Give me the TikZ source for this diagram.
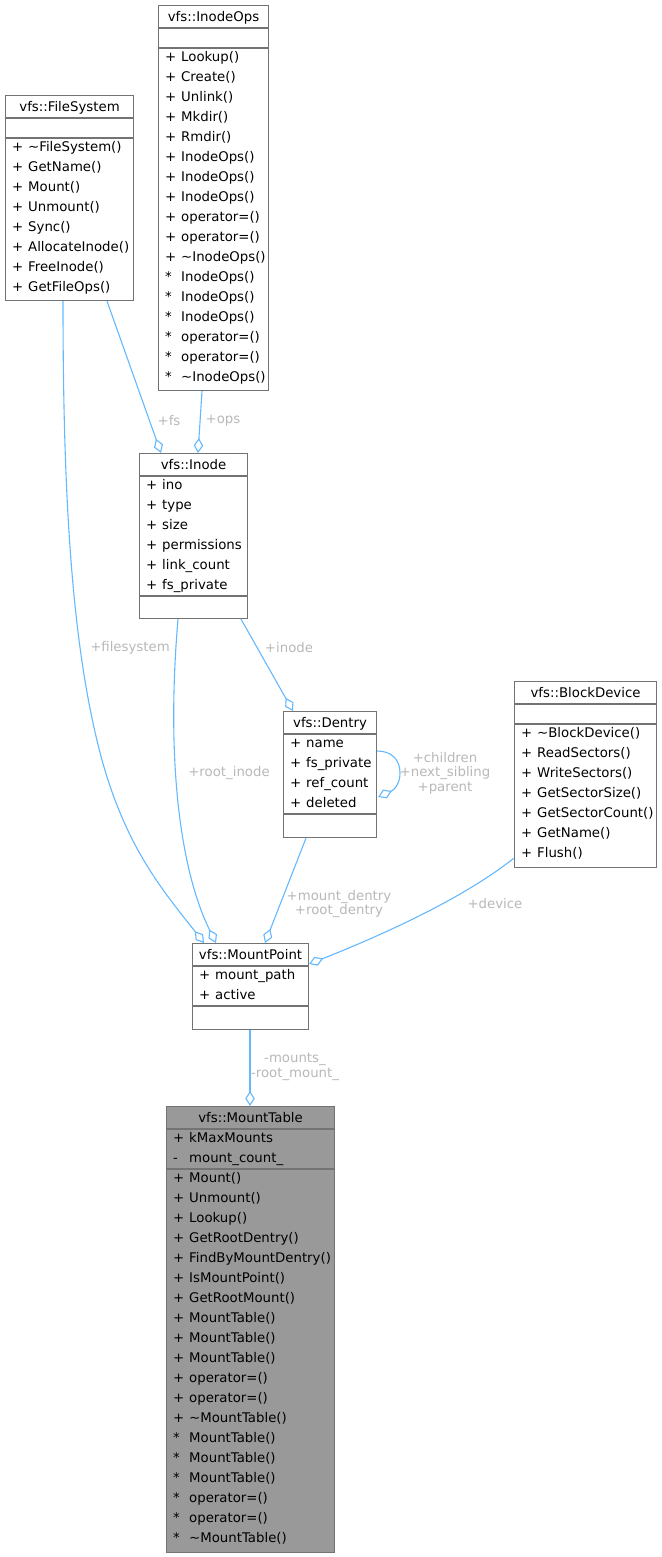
\documentclass[tikz,border=0pt]{standalone}
\usepackage{fontspec}
\setmainfont{DejaVu Sans}
\usetikzlibrary{arrows.meta,calc}
\definecolor{edgeblue}{HTML}{63B8FF}
\definecolor{boxgray}{HTML}{737373}
\definecolor{lblgray}{HTML}{B8B8B8}
\definecolor{mtfill}{HTML}{999999}
\newcommand{\diafont}{\fontsize{13.3}{14.6}\selectfont}
\newcommand{\tld}{\textasciitilde}
\newcommand{\umlmembers}[3]{%
  \foreach \p/\t [count=\i from 0] in {#3} {
    \node[mem] (#1-p\i) at ($(#1.north west)+(7,#2+20*\i)$) {\p};
    \node[mem] (#1-m\i) at ($(#1.north west)+(23,#2+20*\i)$) {\t};
  }}
\newcommand{\umlsep}[2]{%
  \draw[sep] ($(#1.north west)+(0,#2)$) -- ($(#1.north east)+(0,#2)$);}
\begin{document}
\begin{tikzpicture}[x=1pt,y=-1pt,
  box/.style={draw=boxgray, line width=1.1pt, inner sep=0pt, anchor=north west, fill=white},
  ttl/.style={font=\diafont, inner sep=0pt, anchor=center, text height=9.7pt, text depth=0pt},
  mem/.style={font=\diafont, inner sep=0pt, anchor=west, text height=9.7pt, text depth=0pt},
  sep/.style={draw=boxgray, line width=1.1pt},
  assoc/.style={draw=edgeblue, line width=1.1pt, line join=miter,
    -{Diamond[length=15pt,width=9.5pt,fill=white]}},
  lbl/.style={font=\diafont, text=lblgray, inner sep=0pt, align=center}]
\useasboundingbox (0,0) rectangle (661,1557);

% ---------- vfs::InodeOps
\node[box, minimum width=110, minimum height=385] (ops) at (158,5) {};
\node[ttl] (ops-t) at ($(ops.north)+(0,12)$) {vfs::InodeOps};
\umlsep{ops}{23}\umlsep{ops}{43}
\umlmembers{ops}{52}{+/Lookup(),+/Create(),+/Unlink(),+/Mkdir(),+/Rmdir(),+/InodeOps(),+/InodeOps(),+/InodeOps(),+/operator=(),+/operator=(),+/\tld InodeOps(),*/InodeOps(),*/InodeOps(),*/InodeOps(),*/operator=(),*/operator=(),*/\tld InodeOps()}

% ---------- vfs::FileSystem
\node[box, minimum width=128, minimum height=205] (fs) at (5,95) {};
\node[ttl] (fs-t) at ($(fs.north)+(0,12)$) {vfs::FileSystem};
\umlsep{fs}{23}\umlsep{fs}{43}
\umlmembers{fs}{52}{+/\tld FileSystem(),+/GetName(),+/Mount(),+/Unmount(),+/Sync(),+/AllocateInode(),+/FreeInode(),+/GetFileOps()}

% ---------- vfs::Inode
\node[box, minimum width=108, minimum height=165] (inode) at (139,453) {};
\node[ttl] (inode-t) at ($(inode.north)+(0,12)$) {vfs::Inode};
\umlsep{inode}{23}\umlsep{inode}{143}
\umlmembers{inode}{32}{+/ino,+/type,+/size,+/permissions,+/link\_count,+/fs\_private}

% ---------- vfs::Dentry
\node[box, minimum width=93, minimum height=126] (dentry) at (283,711) {};
\node[ttl] (dentry-t) at ($(dentry.north)+(0,12)$) {vfs::Dentry};
\umlsep{dentry}{23}\umlsep{dentry}{103}
\umlmembers{dentry}{32}{+/name,+/fs\_private,+/ref\_count,+/deleted}

% ---------- vfs::BlockDevice
\node[box, minimum width=142, minimum height=186] (bdev) at (514,681) {};
\node[ttl] (bdev-t) at ($(bdev.north)+(0,12)$) {vfs::BlockDevice};
\umlsep{bdev}{23}\umlsep{bdev}{43}
\umlmembers{bdev}{52}{+/\tld BlockDevice(),+/ReadSectors(),+/WriteSectors(),+/GetSectorSize(),+/GetSectorCount(),+/GetName(),+/Flush()}

% ---------- vfs::MountPoint
\node[box, minimum width=116, minimum height=86] (mp) at (192,943) {};
\node[ttl] (mp-t) at ($(mp.north)+(0,12)$) {vfs::MountPoint};
\umlsep{mp}{23}\umlsep{mp}{63}
\umlmembers{mp}{32}{+/mount\_path,+/active}

% ---------- vfs::MountTable
\node[box, fill=mtfill, minimum width=168, minimum height=446] (mt) at (166,1106) {};
\node[ttl] (mt-t) at ($(mt.north)+(0,12)$) {vfs::MountTable};
\umlsep{mt}{23}\umlsep{mt}{63}
\umlmembers{mt}{32}{+/kMaxMounts,-/mount\_count\_}
\umlmembers{mt}{72}{+/Mount(),+/Unmount(),+/Lookup(),+/GetRootDentry(),+/FindByMountDentry(),+/IsMountPoint(),+/GetRootMount(),+/MountTable(),+/MountTable(),+/MountTable(),+/operator=(),+/operator=(),+/\tld MountTable(),*/MountTable(),*/MountTable(),*/MountTable(),*/operator=(),*/operator=(),*/\tld MountTable()}

% ---------- connectors
\draw[assoc] ($(fs.south west)+(102,0)$) -- ($(inode.north west)+(22,0)$);
\draw[assoc] ($(ops.south west)+(44,0)$) -- ($(inode.north west)+(59,0)$);
\draw[assoc] ($(fs.south west)+(58,0)$) .. controls (63,500) and (72,650) .. (102,760)
  .. controls (127,850) and (165,893) .. ($(mp.north west)+(12,0)$);
\draw[assoc] ($(inode.south west)+(39,0)$) .. controls (166,760) and (180,870) .. ($(mp.north west)+(24,0)$);
\draw[assoc] ($(inode.south west)+(102,0)$) -- ($(dentry.north west)+(10,0)$);
\draw[assoc] ($(dentry.north east)+(0,40)$) .. controls (392,751) and (400,760) .. (400,773)
  .. controls (400,784) and (394,790) .. ($(dentry.north east)+(1,86)$);
\draw[assoc] ($(dentry.south west)+(23,0)$) -- ($(mp.north west)+(73,0)$);
\draw[assoc] ($(bdev.south west)+(0,-10)$) .. controls (470,893) and (400,928) .. ($(mp.north east)+(0,21)$);
\draw[assoc] ($(mp.south west)+(58,0)$) -- ($(mt.north west)+(84,0)$);

% ---------- labels
\node[lbl] (l-fs) at (169,421) {+fs};
\node[lbl] (l-ops) at (223,421) {+ops};
\node[lbl] (l-filesystem) at (130,648) {+filesystem};
\node[lbl] (l-inode) at (289,648) {+inode};
\node[lbl] (l-rootinode) at (229,773) {+root\_inode};
\node[lbl] (l-self) at (445,773) {+children\\+next\_sibling\\+parent};
\node[lbl] (l-dentry) at (339,904) {+mount\_dentry\\+root\_dentry};
\node[lbl] (l-device) at (495,904) {+device};
\node[lbl] (l-mounts) at (295,1067) {-mounts\_\\-root\_mount\_};
\end{tikzpicture}
\end{document}
